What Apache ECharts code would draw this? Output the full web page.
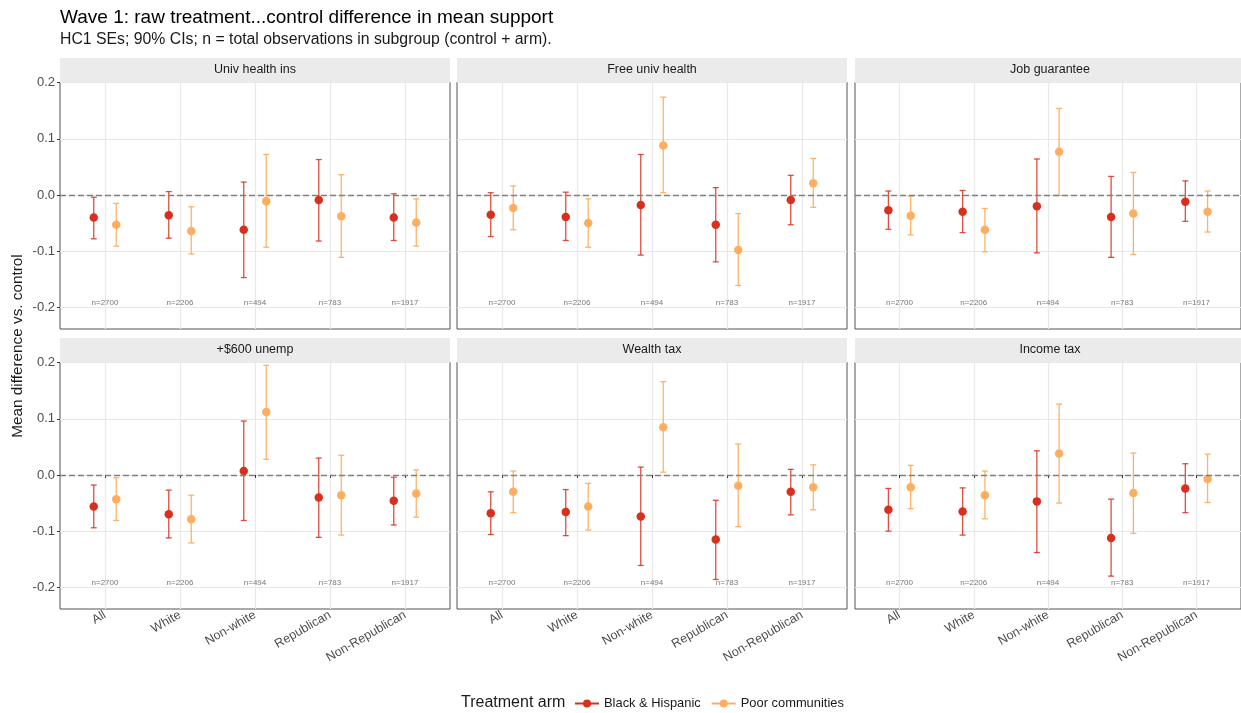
<!DOCTYPE html>
<html>
<head>
<meta charset="utf-8">
<title>Wave 1 treatment vs control</title>
<script src="https://cdn.jsdelivr.net/npm/echarts@6/dist/echarts.min.js"></script>
<style>
  html, body { margin: 0; padding: 0; background: #fff; }
  #chart { width: 1241px; height: 713px; }
</style>
</head>
<body>
<div id="chart"></div>
<script>
// Subgroups shown on the x axis of each facet
const categories = ['All', 'White', 'Non-white', 'Republican', 'Non-Republican'];
const nLabels = ['n=2700', 'n=2206', 'n=494', 'n=783', 'n=1917'];
const policies = ['Univ health ins', 'Free univ health', 'Job guarantee', '+$600 unemp', 'Wealth tax', 'Income tax'];
const arms = ['Black & Hispanic', 'Poor communities'];
const yTicks = [-0.2, -0.1, 0, 0.1, 0.2];

// Black & Hispanic arm: estimate and 90% CI bounds, one row per policy
const bhEst = [
  [-0.040, -0.036, -0.062, -0.009, -0.040],
  [-0.035, -0.039, -0.018, -0.053, -0.009],
  [-0.027, -0.030, -0.020, -0.039, -0.012],
  [-0.056, -0.070, 0.007, -0.040, -0.046],
  [-0.068, -0.066, -0.074, -0.115, -0.030],
  [-0.062, -0.065, -0.047, -0.112, -0.024]
];
const bhLo = [
  [-0.078, -0.077, -0.147, -0.082, -0.081],
  [-0.074, -0.081, -0.107, -0.119, -0.053],
  [-0.061, -0.067, -0.103, -0.111, -0.047],
  [-0.094, -0.112, -0.081, -0.111, -0.089],
  [-0.106, -0.108, -0.161, -0.186, -0.071],
  [-0.100, -0.107, -0.138, -0.180, -0.067]
];
const bhHi = [
  [-0.004, 0.006, 0.023, 0.063, 0.002],
  [0.004, 0.005, 0.072, 0.013, 0.035],
  [0.007, 0.008, 0.064, 0.033, 0.025],
  [-0.018, -0.027, 0.096, 0.030, -0.004],
  [-0.030, -0.026, 0.014, -0.045, 0.010],
  [-0.024, -0.023, 0.043, -0.043, 0.020]
];

// Poor communities arm
const pcEst = [
  [-0.053, -0.064, -0.011, -0.038, -0.049],
  [-0.023, -0.050, 0.088, -0.098, 0.021],
  [-0.037, -0.062, 0.077, -0.033, -0.030],
  [-0.043, -0.079, 0.112, -0.036, -0.033],
  [-0.030, -0.056, 0.085, -0.019, -0.022],
  [-0.022, -0.036, 0.038, -0.032, -0.007]
];
const pcLo = [
  [-0.091, -0.105, -0.093, -0.111, -0.091],
  [-0.062, -0.093, 0.004, -0.161, -0.022],
  [-0.071, -0.101, -0.001, -0.106, -0.066],
  [-0.081, -0.121, 0.028, -0.107, -0.075],
  [-0.067, -0.098, 0.005, -0.092, -0.062],
  [-0.060, -0.078, -0.050, -0.104, -0.049]
];
const pcHi = [
  [-0.015, -0.021, 0.072, 0.036, -0.007],
  [0.016, -0.007, 0.174, -0.033, 0.065],
  [-0.002, -0.024, 0.154, 0.040, 0.007],
  [-0.005, -0.036, 0.195, 0.035, 0.009],
  [0.007, -0.015, 0.166, 0.055, 0.018],
  [0.017, 0.007, 0.126, 0.039, 0.037]
];

// ---- layout & style ----
const FONT = '"Liberation Sans", Arial, sans-serif';
const RED = '#d7301f', RED_BAR = 'rgba(215,48,31,0.85)';
const ORANGE = '#fdae61', ORANGE_BAR = 'rgba(253,174,97,0.95)';
const DODGE = 0.15;          // half of the dodge width between the two arms
const N_LABEL_Y = -0.191;    // height of the sample-size annotations
const X_MIN = 0.4, X_MAX = 5.6, Y_MIN = -0.2385, Y_MAX = 0.201;
const PANEL_W = 390, PANEL_H = 247;
const colLeft = [60, 457, 855];
const rowTop = [82, 362];
const STRIP_H = 24;

const chart = echarts.init(document.getElementById('chart'), null, { renderer: 'canvas' });

const grids = [], xAxes = [], yAxes = [], series = [], graphics = [];
const catPos = categories.map((c, i) => i + 1);

function errorBarRender(color) {
  return function (params, api) {
    const x = api.value(0);
    const top = api.coord([x, api.value(2)]);
    const bot = api.coord([x, api.value(1)]);
    const cap = 3;
    const style = { stroke: color, lineWidth: 1.3 };
    return {
      type: 'group',
      children: [
        { type: 'line', shape: { x1: top[0], y1: top[1], x2: bot[0], y2: bot[1] }, style },
        { type: 'line', shape: { x1: top[0] - cap, y1: top[1], x2: top[0] + cap, y2: top[1] }, style },
        { type: 'line', shape: { x1: bot[0] - cap, y1: bot[1], x2: bot[0] + cap, y2: bot[1] }, style }
      ]
    };
  };
}

policies.forEach((name, p) => {
  const row = Math.floor(p / 3), col = p % 3;
  const left = colLeft[col], top = rowTop[row];
  grids.push({
    left, top, width: PANEL_W, height: PANEL_H,
    show: true, borderColor: '#555', borderWidth: 1, backgroundColor: '#fff',
    containLabel: false
  });
  const bottomRow = row === 1, leftCol = col === 0;
  xAxes.push({
    type: 'value', gridIndex: p, min: X_MIN, max: X_MAX,
    axisLine: { show: false },
    axisTick: { show: bottomRow, customValues: catPos, length: 3, lineStyle: { color: '#333', width: 1 } },
    axisLabel: {
      show: bottomRow, customValues: catPos, rotate: 30, margin: 5,
      fontFamily: FONT, fontSize: 12.5, color: '#4d4d4d',
      formatter: v => categories[Math.round(v) - 1] || ''
    },
    splitLine: { show: true, lineStyle: { color: '#e8e8e8', width: 1.2 } }
  });
  yAxes.push({
    type: 'value', gridIndex: p, min: Y_MIN, max: Y_MAX,
    axisLine: { show: false },
    axisTick: { show: leftCol, customValues: yTicks, length: 3, lineStyle: { color: '#333', width: 1 } },
    axisLabel: {
      show: leftCol, customValues: yTicks, margin: 5,
      fontFamily: FONT, fontSize: 13, color: '#4d4d4d',
      formatter: v => v.toFixed(1)
    },
    splitLine: { show: true, lineStyle: { color: '#e8e8e8', width: 1.2 } }
  });

  // facet strip
  graphics.push({
    type: 'rect', left, top: top - STRIP_H, z: 10,
    shape: { width: PANEL_W, height: STRIP_H }, style: { fill: '#ebebeb' }
  });
  graphics.push({
    type: 'text', x: left + PANEL_W / 2, y: top - STRIP_H / 2, z: 11,
    style: { text: name, fill: '#1a1a1a', font: '12.5px ' + FONT, textAlign: 'center', textVerticalAlign: 'middle' }
  });

  // sample sizes + zero reference line
  series.push({
    type: 'scatter', xAxisIndex: p, yAxisIndex: p, silent: true, z: 1,
    symbolSize: 0,
    data: nLabels.map((t, i) => [catPos[i], N_LABEL_Y, t]),
    label: {
      show: true, position: 'inside', formatter: d => d.value[2],
      fontFamily: FONT, fontSize: 8, color: '#555'
    },
    markLine: {
      silent: true, symbol: 'none', label: { show: false },
      lineStyle: { color: '#7f7f7f', type: [6, 3], width: 1.3 },
      data: [{ yAxis: 0 }]
    }
  });

  const armData = [
    { est: bhEst[p], lo: bhLo[p], hi: bhHi[p], off: -DODGE, color: RED, bar: RED_BAR, name: arms[0] },
    { est: pcEst[p], lo: pcLo[p], hi: pcHi[p], off: DODGE, color: ORANGE, bar: ORANGE_BAR, name: arms[1] }
  ];
  armData.forEach(a => {
    series.push({
      type: 'custom', xAxisIndex: p, yAxisIndex: p, silent: true, z: 2,
      renderItem: errorBarRender(a.bar),
      encode: { x: 0, y: [1, 2] },
      data: catPos.map((c, i) => [c + a.off, a.lo[i], a.hi[i]])
    });
  });
  armData.forEach(a => {
    series.push({
      type: 'scatter', name: a.name, xAxisIndex: p, yAxisIndex: p, z: 3,
      symbol: 'circle', symbolSize: 8.5,
      itemStyle: { color: a.color, opacity: 1 },
      data: catPos.map((c, i) => [c + a.off, a.est[i]])
    });
  });
});

// y axis title and legend title
graphics.push({
  type: 'text', x: 18, y: 346, rotation: Math.PI / 2, z: 11,
  style: { text: 'Mean difference vs. control', fill: '#1a1a1a', font: '15.3px ' + FONT, textAlign: 'center', textVerticalAlign: 'middle' }
});
graphics.push({
  type: 'text', x: 461, y: 703, z: 11,
  style: { text: 'Treatment arm', fill: '#1a1a1a', font: '16px ' + FONT, textAlign: 'left', textVerticalAlign: 'middle' }
});

const keyIcon = 'path://M0,3.6L24,3.6L24,5.4L0,5.4Z M12,0.5A4,4 0 1 1 12,8.5A4,4 0 1 1 12,0.5Z';

chart.setOption({
  animation: false,
  backgroundColor: '#fff',
  title: {
    left: 60, top: 8,
    text: 'Wave 1: raw treatment...control difference in mean support',
    subtext: 'HC1 SEs; 90% CIs; n = total observations in subgroup (control + arm).',
    itemGap: 5,
    textStyle: { fontFamily: FONT, fontSize: 19, fontWeight: 'normal', color: '#000' },
    subtextStyle: { fontFamily: FONT, fontSize: 15.8, color: '#1a1a1a' },
    padding: 0
  },
  legend: {
    left: 575, top: 697, padding: 0, data: arms, icon: keyIcon,
    itemWidth: 24, itemHeight: 9, itemGap: 11,
    textStyle: { fontFamily: FONT, fontSize: 12.9, color: '#1a1a1a' }
  },
  grid: grids, xAxis: xAxes, yAxis: yAxes, series,
  graphic: graphics
});
</script>
</body>
</html>
